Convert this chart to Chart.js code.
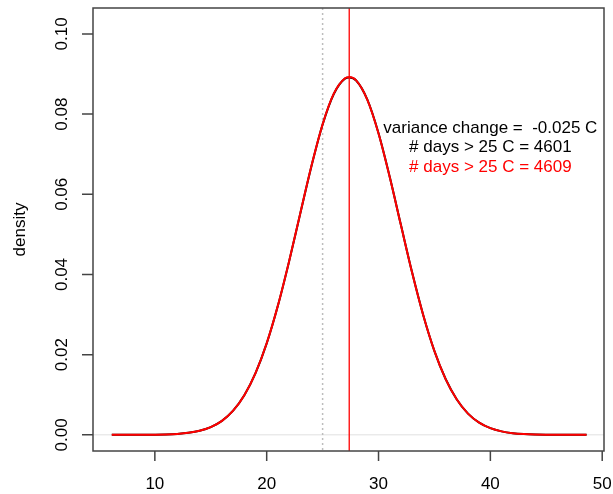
<!DOCTYPE html>
<html>
<head>
<meta charset="utf-8">
<script src="https://cdn.jsdelivr.net/npm/chart.js@4/dist/chart.umd.min.js"></script>
<style>
  html, body { margin: 0; padding: 0; background: #fff; }
  #wrap { width: 613px; height: 494px; }
</style>
</head>
<body>
<div id="wrap"><canvas id="chart" width="613" height="494"></canvas></div>
<script>
// temperature values (C) where the density curves were read
const temps = [6.15, 7, 8, 9, 10, 11, 12, 13, 14, 15, 16, 17, 18, 19, 20, 21, 22, 23, 24, 25, 26, 27, 27.4,
  28, 29, 30, 31, 32, 33, 34, 35, 36, 37, 38, 39, 40, 41, 42, 43, 44, 45, 46, 47, 48, 48.6];
// original distribution (black)
const densityBase = [0.000001, 0.000003, 0.000007, 0.000019, 0.000047, 0.000108, 0.00024, 0.000505, 0.00101, 0.00193,
  0.00349, 0.00602, 0.00985, 0.01537, 0.0228, 0.03218, 0.04321, 0.05518, 0.067, 0.0774, 0.08503, 0.08885, 0.08912,
  0.08838, 0.0836, 0.07522, 0.06436, 0.05238, 0.04054, 0.02985, 0.0209, 0.01392, 0.00882, 0.0053, 0.00304, 0.00166,
  0.00086, 0.00042, 0.0002, 0.000089, 0.000038, 0.000015, 0.000006, 0.000002, 0.000001];
// shifted distribution (red)
const densityNew = [0.000001, 0.000003, 0.000007, 0.000019, 0.000047, 0.000108, 0.00024, 0.000505, 0.00101, 0.00193,
  0.00349, 0.00602, 0.00987, 0.0154, 0.02284, 0.03223, 0.04326, 0.05523, 0.06705, 0.07745, 0.0851, 0.08893, 0.08925,
  0.0884, 0.08358, 0.07517, 0.0643, 0.05232, 0.04049, 0.02981, 0.02087, 0.0139, 0.00881, 0.0053, 0.00304, 0.00166,
  0.00086, 0.00042, 0.0002, 0.000089, 0.000038, 0.000015, 0.000006, 0.000002, 0.000001];

const xTicks = [10, 20, 30, 40, 50];
const yTicks = [0, 0.02, 0.04, 0.06, 0.08, 0.10];
const threshold = 25;
const meanLine = 27.38;
const labelX = 40;
const labelY = [0.0765, 0.0717, 0.0668];
const labels = ['variance change =  -0.025 C', '# days > 25 C = 4601', '# days > 25 C = 4609'];
const labelColors = ['#000', '#000', '#ff0000'];

const font = '"Liberation Sans", Arial, sans-serif';

function pts(ys) {
  return temps.map((t, i) => ({ x: t, y: ys[i] }));
}

// draws the R-style box, axes, reference lines and text
const rPlot = {
  id: 'rPlot',
  beforeDatasetsDraw(chart) {
    const { ctx, chartArea: a, scales: { x, y } } = chart;
    ctx.save();
    // zero line
    ctx.strokeStyle = '#e0e0e0';
    ctx.lineWidth = 1;
    ctx.beginPath();
    ctx.moveTo(a.left, y.getPixelForValue(0));
    ctx.lineTo(a.right, y.getPixelForValue(0));
    ctx.stroke();
    // threshold dotted line
    ctx.strokeStyle = '#bdbdbd';
    ctx.lineWidth = 1.5;
    ctx.setLineDash([2, 3]);
    const tx = x.getPixelForValue(threshold);
    ctx.beginPath();
    ctx.moveTo(tx, a.top);
    ctx.lineTo(tx, a.bottom);
    ctx.stroke();
    ctx.restore();
  },
  afterDatasetsDraw(chart) {
    const { ctx, chartArea: a, scales: { x, y } } = chart;
    ctx.save();
    // mean line
    ctx.strokeStyle = '#ff0000';
    ctx.lineWidth = 1.3;
    const mx = x.getPixelForValue(meanLine);
    ctx.beginPath();
    ctx.moveTo(mx, a.top);
    ctx.lineTo(mx, a.bottom);
    ctx.stroke();

    // box
    ctx.strokeStyle = '#444';
    ctx.lineWidth = 1.5;
    ctx.strokeRect(a.left, a.top, a.right - a.left, a.bottom - a.top);

    // x axis ticks + labels
    ctx.fillStyle = '#000';
    ctx.font = '17px ' + font;
    ctx.textAlign = 'center';
    ctx.textBaseline = 'middle';
    ctx.beginPath();
    xTicks.forEach(v => {
      const px = x.getPixelForValue(v);
      ctx.moveTo(px, a.bottom);
      ctx.lineTo(px, a.bottom + 10);
      ctx.fillText(String(v), px, a.bottom + 33);
    });
    // y axis ticks
    yTicks.forEach(v => {
      const py = y.getPixelForValue(v);
      ctx.moveTo(a.left, py);
      ctx.lineTo(a.left - 11, py);
    });
    ctx.stroke();
    // y labels, rotated
    yTicks.forEach(v => {
      const py = y.getPixelForValue(v);
      ctx.save();
      ctx.translate(a.left - 31, py);
      ctx.rotate(-Math.PI / 2);
      ctx.fillText(v.toFixed(2), 0, 0);
      ctx.restore();
    });
    ctx.save();
    ctx.translate(20, (a.top + a.bottom) / 2);
    ctx.rotate(-Math.PI / 2);
    ctx.fillText('density', 0, 0);
    ctx.restore();

    // annotations
    labels.forEach((s, i) => {
      ctx.fillStyle = labelColors[i];
      ctx.fillText(s, x.getPixelForValue(labelX), y.getPixelForValue(labelY[i]));
    });
    ctx.restore();
  }
};

new Chart(document.getElementById('chart'), {
  type: 'line',
  data: {
    datasets: [
      { data: pts(densityBase), borderColor: '#000', borderWidth: 2, pointRadius: 0,
        cubicInterpolationMode: 'monotone', fill: false, order: 2 },
      { data: pts(densityNew), borderColor: '#ff0000', borderWidth: 2, pointRadius: 0,
        cubicInterpolationMode: 'monotone', fill: false, order: 1 }
    ]
  },
  options: {
    responsive: false,
    animation: false,
    layout: { padding: { left: 93, right: 9, top: 8, bottom: 43 } },
    plugins: { legend: { display: false }, tooltip: { enabled: false } },
    scales: {
      x: { type: 'linear', min: 4.47, max: 50.16, display: false },
      y: { type: 'linear', min: -0.00403, max: 0.10647, display: false }
    }
  },
  plugins: [rPlot]
});
</script>
</body>
</html>
